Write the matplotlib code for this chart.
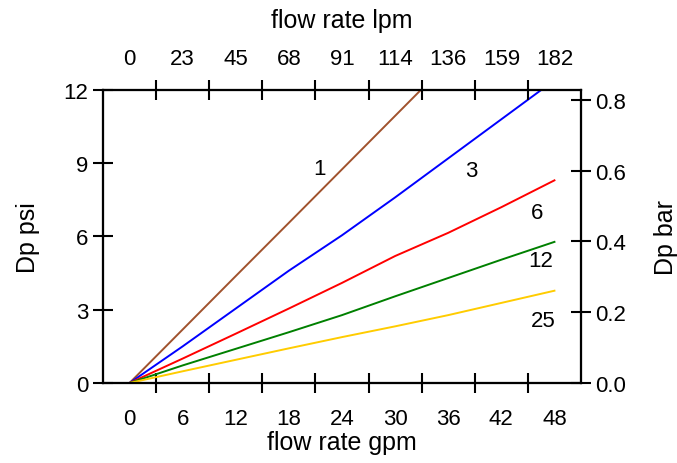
import matplotlib
matplotlib.use("Agg")
import matplotlib.pyplot as plt

plt.rcParams['font.family'] = ['Liberation Sans', 'DejaVu Sans']

# Pressure drop (psi) versus flow (gpm) for each element rating
flow_gpm = [0, 6, 12, 18, 24, 30, 36, 42, 48]
dp_1 = [0, 2.19, 4.38, 6.56, 8.75, 10.94, 13.13, 15.31, 17.5]
dp_3 = [0, 1.5, 3.05, 4.6, 6.05, 7.6, 9.2, 10.8, 12.4]
dp_6 = [0, 1.0, 2.02, 3.05, 4.1, 5.2, 6.15, 7.2, 8.3]
dp_12 = [0, 0.72, 1.4, 2.08, 2.78, 3.55, 4.3, 5.05, 5.78]
dp_25 = [0, 0.48, 0.95, 1.42, 1.88, 2.32, 2.78, 3.28, 3.78]

series_names = ["1", "3", "6", "12", "25"]
series_values = [dp_1, dp_3, dp_6, dp_12, dp_25]
series_colors = ["#A0522D", "#0000FF", "#FF0000", "#008000", "#FFCC00"]
label_pos = [(21.5, 8.8), (38.6, 8.7), (46.0, 7.0), (46.5, 5.0), (46.7, 2.58)]

gpm_labels = [0, 6, 12, 18, 24, 30, 36, 42, 48]
lpm_labels = ["0", "23", "45", "68", "91", "114", "136", "159", "182"]
psi_ticks = [0, 3, 6, 9, 12]
bar_ticks = [0.0, 0.2, 0.4, 0.6, 0.8]
PSI_PER_BAR = 14.5038

fig = plt.figure(figsize=(6.77, 4.64), dpi=100)
ax = fig.add_axes([0.1521, 0.1724, 0.7061, 0.6315])

for name, vals, col, (tx, ty) in zip(series_names, series_values, series_colors, label_pos):
    ax.plot(flow_gpm, vals, color=col, lw=1.4, zorder=3)
    ax.text(tx, ty, name, fontsize=16, ha='center', va='center')

xmin, xmax = -3, 51
ax.set_xlim(xmin, xmax)
ax.set_ylim(0, 12)

# tick marks sit between the labelled values; labels carried on minor ticks
tick_marks = [g + 3 for g in gpm_labels[:-1]]

tick_kw = dict(direction='inout', length=15, width=1.5, color='black')
label_kw = dict(labelsize=16)

ax.set_xticks(tick_marks)
ax.set_xticklabels([])
ax.set_xticks(gpm_labels, minor=True)
ax.set_xticklabels([str(g) for g in gpm_labels], minor=True)
ax.tick_params(axis='x', which='major', **tick_kw)
ax.tick_params(axis='x', which='minor', length=0, pad=18, **label_kw)

ax.set_yticks(psi_ticks)
ax.set_yticklabels([str(p) for p in psi_ticks])
ax.tick_params(axis='y', which='major', pad=3, **tick_kw, **label_kw)
ax.set_xlabel("flow rate gpm", fontsize=18, labelpad=1)
ax.set_ylabel("Dp psi", fontsize=18, labelpad=17)

# top axis in litres per minute
axt = ax.twiny()
axt.set_xlim(xmin, xmax)
axt.set_xticks(tick_marks)
axt.set_xticklabels([])
axt.set_xticks(gpm_labels, minor=True)
axt.set_xticklabels(lpm_labels, minor=True)
axt.tick_params(axis='x', which='major', **tick_kw)
axt.tick_params(axis='x', which='minor', length=0, pad=15, **label_kw)
axt.set_xlabel("flow rate lpm", fontsize=18, labelpad=15)

# right axis in bar
axr = ax.twinx()
axr.set_ylim(0, 12 / PSI_PER_BAR)
axr.set_yticks(bar_ticks)
axr.set_yticklabels([f"{b:.1f}" for b in bar_ticks])
axr.tick_params(axis='y', which='major', pad=3, **tick_kw, **label_kw)
axr.set_ylabel("Dp bar", fontsize=18, labelpad=20)

for a in (ax, axt, axr):
    for s in a.spines.values():
        s.set_linewidth(1.5)

fig.savefig("out.png", dpi=100)
